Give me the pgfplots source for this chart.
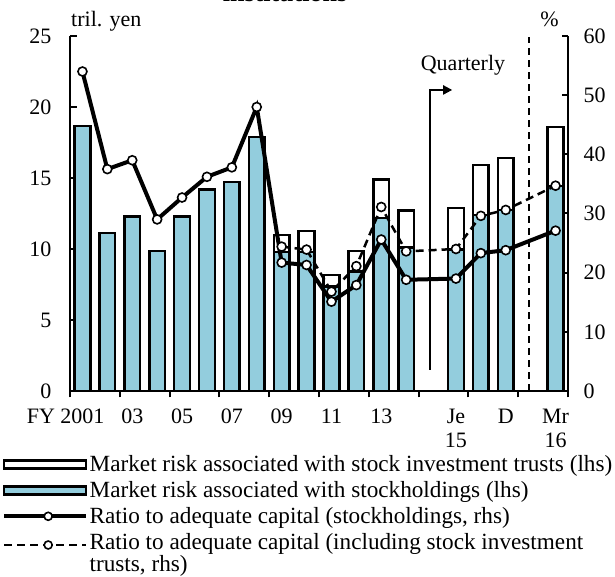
\documentclass[border=0pt]{standalone}
\usepackage{pgfplots}
\usepackage{pgfplotstable}
\pgfplotsset{compat=1.18}
\usepackage{fontspec}
\setmainfont{Liberation Serif}
\usetikzlibrary{arrows.meta}
\definecolor{barblue}{RGB}{147,205,221}
\newcommand{\fs}{\fontsize{22}{24}\selectfont}

\pgfplotstableread{
x    stock
0.5  18.65
1.5  11.13
2.5  12.30
3.5  9.86
4.5  12.30
5.5  14.18
6.5  14.72
7.5  17.90
8.5  9.80
9.5  9.80
10.5 7.35
11.5 8.40
12.5 12.20
13.5 10.10
15.5 9.95
16.5 12.40
17.5 12.75
19.5 14.44
}\stockdata

\pgfplotstableread{
x    total
8.5  10.99
9.5  11.27
10.5 8.17
11.5 9.86
12.5 14.88
13.5 12.72
15.5 12.90
16.5 15.92
17.5 16.40
19.5 18.60
}\totaldata

\pgfplotstableread{
x    ratio
0.5  54.0
1.5  37.5
2.5  39.0
3.5  29.0
4.5  32.7
5.5  36.2
6.5  37.8
7.5  48.0
8.5  21.7
9.5  21.3
10.5 15.1
11.5 17.9
12.5 25.6
13.5 18.8
15.5 19.0
16.5 23.3
17.5 23.8
19.5 27.1
}\ratiostock

\pgfplotstableread{
x    ratio
8.5  24.4
9.5  23.9
10.5 16.8
11.5 21.1
12.5 31.1
13.5 23.6
15.5 24.0
16.5 29.6
17.5 30.6
19.5 34.7
}\ratiototal

\begin{document}
\begin{tikzpicture}
\useasboundingbox (-70pt,-186pt) rectangle (545pt,391pt);
\begin{axis}[
  scale only axis, width=498pt, height=355pt,
  at={(0pt,0pt)}, anchor=south west,
  xmin=0, xmax=20, ymin=0, ymax=25,
  axis y line*=left, axis x line*=bottom,
  axis line style={line width=2.5pt, black},
  ytick={0,5,...,25},
  xtick={0,2,...,20}, xticklabels={},
  extra x ticks={0.5,2.5,4.5,6.5,8.5,10.5,12.5,15.5,17.5,19.5},
  extra x tick labels={\llap{FY\ }2001,03,05,07,09,11,13,Je\\15,D,Mr\\16},
  extra x tick style={major tick length=0pt},
  xticklabel style={align=center, anchor=north, yshift=-18pt, font=\fs, inner sep=0pt},
  yticklabel style={font=\fs, xshift=-15pt},
  /pgf/number format/assume math mode=true,
  tick align=inside,
  major tick length=6.5pt,
  every tick/.style={black, line width=2pt},
  major x tick style={yshift=-6.5pt},
  clip=false,
]
\addplot[ybar, bar width=0.63, bar shift=0pt, fill=white, draw=black, line width=2.5pt] table[x=x,y=total]{\totaldata};
\addplot[ybar, bar width=0.63, bar shift=0pt, fill=barblue, draw=black, line width=2.5pt] table[x=x,y=stock]{\stockdata};
\draw[black, line width=2pt, dash pattern=on 7pt off 5pt] (axis cs:18.45,0) -- (axis cs:18.45,24.9);
\draw[black, line width=2pt, -{Triangle[length=9pt,width=9pt]}] (axis cs:14.45,1.5) -- (axis cs:14.45,21.2) -- (axis cs:15.35,21.2);
\end{axis}
\begin{axis}[
  scale only axis, width=498pt, height=355pt,
  at={(0pt,0pt)}, anchor=south west,
  xmin=0, xmax=20, ymin=0, ymax=60,
  axis y line*=right, axis x line=none,
  axis line style={line width=2.5pt, black},
  ytick={0,10,...,60},
  yticklabel style={font=\fs, xshift=12pt},
  /pgf/number format/assume math mode=true,
  tick align=inside,
  major tick length=6.5pt,
  every tick/.style={black, line width=2pt},
  clip=false,
  legend style={at={(0,0)}, anchor=north west, xshift=-68pt, yshift=-63pt,
    draw=none, fill=none, font=\fontsize{23.2}{16.5}\selectfont,
    cells={anchor=west, align=left}, row sep=5.3pt, inner sep=0pt,
    nodes={inner sep=1.5pt}},
]
\addlegendimage{legend image code/.code={\draw[fill=white, draw=black, line width=2.5pt] (0pt,-4pt) rectangle (82pt,4pt);}}
\addlegendentry{Market risk associated with stock investment trusts (lhs)}
\addlegendimage{legend image code/.code={\draw[fill=barblue, draw=black, line width=2.5pt] (0pt,-4pt) rectangle (82pt,4pt);}}
\addlegendentry{Market risk associated with stockholdings (lhs)}
\addplot[black, line width=4pt, mark=*, mark size=4.5pt,
  mark options={fill=white, draw=black, line width=1.6pt},
  legend image code/.code={\draw[black, line width=4pt] (0pt,0pt) -- (82pt,0pt); \draw[solid, fill=white, draw=black, line width=1.6pt] (44pt,0pt) circle (4pt);}]
  table[x=x,y=ratio]{\ratiostock};
\addlegendentry{Ratio to adequate capital (stockholdings, rhs)}
\addplot[black, line width=2.5pt, dash pattern=on 8pt off 5pt, mark=*, mark size=4.5pt,
  mark options={solid, fill=white, draw=black, line width=1.6pt},
  legend image code/.code={\draw[black, line width=2.5pt, dash pattern=on 8pt off 5pt] (0pt,8.25pt) -- (82pt,8.25pt); \draw[solid, fill=white, draw=black, line width=1.6pt] (44pt,8.25pt) circle (4pt);}]
  table[x=x,y=ratio]{\ratiototal};
\addlegendentry{Ratio to adequate capital (including stock investment\\trusts, rhs)}
\end{axis}
\node[anchor=base, font=\bfseries\fontsize{26}{26}\selectfont] at (215pt,389.5pt) {institutions};
\node[anchor=base west, inner sep=0pt, font=\fs] at (1pt,364pt) {tril. yen};
\node[anchor=base east, inner sep=0pt, font=\fs] at (489pt,364pt) {\%};
\node[anchor=base, inner sep=0pt, font=\fs] at (393pt,320pt) {Quarterly};
\end{tikzpicture}
\end{document}
